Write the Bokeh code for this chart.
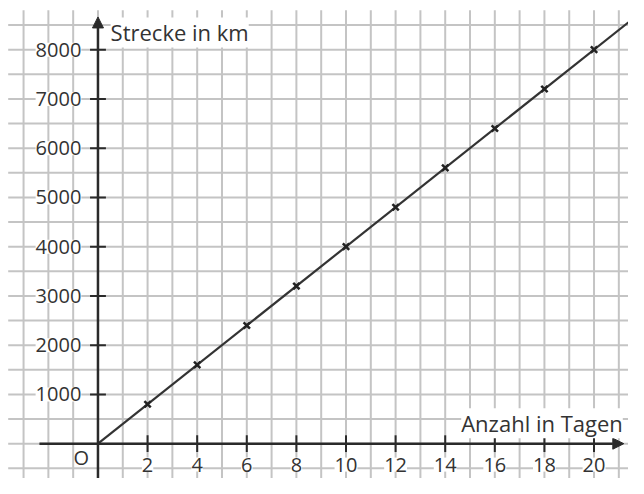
from bokeh.plotting import figure
from bokeh.models import Range1d, ColumnDataSource, LabelSet, Label, Arrow, NormalHead
from bokeh.core.properties import value
from bokeh.embed import file_html
from bokeh.resources import INLINE

# data
days = [2, 4, 6, 8, 10, 12, 14, 16, 18, 20]
km = [800, 1600, 2400, 3200, 4000, 4800, 5600, 6400, 7200, 8000]
x_ticks = [2, 4, 6, 8, 10, 12, 14, 16, 18, 20]
x_tick_labels = ["2", "4", "6", "8", "10", "12", "14", "16", "18", "20"]
y_ticks = [1000, 2000, 3000, 4000, 5000, 6000, 7000, 8000]
y_tick_labels = ["1000", "2000", "3000", "4000", "5000", "6000", "7000", "8000"]
x_title = "Anzahl in Tagen"
y_title = "Strecke in km"

FONT = "Open Sans"
TXT = "#333333"
AX = "#2a2a2a"
GRID = "#c4c4c4"
FS_NUM = "20px"
FS_TITLE = "22px"

X0, X1 = -3.93, 21.39
Y0, Y1 = -707, 8998

p = figure(width=628, height=478, x_range=Range1d(X0, X1), y_range=Range1d(Y0, Y1),
           output_backend="svg", toolbar_location=None, min_border=0)
p.axis.visible = False
p.grid.visible = False
p.outline_line_color = None
p.background_fill_color = "white"

# grid (1 day x 500 km)
gx = list(range(-3, 22))
p.segment(x0=gx, y0=[Y0] * len(gx), x1=gx, y1=[8800] * len(gx), line_color=GRID, line_width=2)
gy = list(range(-500, 9000, 500))
p.segment(x0=[-3.62] * len(gy), y0=gy, x1=[X1] * len(gy), y1=gy, line_color=GRID, line_width=2)

# axes
p.add_layout(Arrow(end=NormalHead(size=11, fill_color=AX, line_color=AX), x_start=-2.36, y_start=0,
                   x_end=21.2, y_end=0, line_color=AX, line_width=2.5))
p.add_layout(Arrow(end=NormalHead(size=11, fill_color=AX, line_color=AX), x_start=0, y_start=Y0,
                   x_end=0, y_end=8664, line_color=AX, line_width=2.5))

# tick marks
p.segment(x0=x_ticks, y0=[-170] * len(x_ticks), x1=x_ticks, y1=[170] * len(x_ticks), line_color=AX, line_width=2)
p.segment(x0=[-0.32] * len(y_ticks), y0=y_ticks, x1=[0.32] * len(y_ticks), y1=y_ticks, line_color=AX, line_width=2)

# proportional line through origin
slope = km[-1] / days[-1]
x_end = X1
p.line(x=[0, x_end], y=[0, slope * x_end], line_color="#333333", line_width=2.2)
p.scatter(x=days, y=km, marker="x", size=9, line_color="#222222", line_width=2.5)

# tick labels
xs = ColumnDataSource(dict(x=x_ticks, y=[-425] * len(x_ticks), t=x_tick_labels))
p.add_layout(LabelSet(source=xs, x="x", y="y", text="t", text_align="center", text_baseline="middle",
                      text_font=value(FONT), text_font_size=value(FS_NUM), text_color=TXT,
                      background_fill_color="white"))
ys = ColumnDataSource(dict(x=[-0.67] * len(y_ticks), y=y_ticks, t=y_tick_labels))
p.add_layout(LabelSet(source=ys, x="x", y="y", text="t", text_align="right", text_baseline="middle",
                      text_font=value(FONT), text_font_size=value(FS_NUM), text_color=TXT,
                      background_fill_color="white"))

p.add_layout(Label(x=-0.67, y=-280, text="O", text_align="center", text_baseline="middle",
                   text_font=FONT, text_font_size=FS_NUM, text_color=TXT))
p.add_layout(Label(x=21.16, y=413, text=x_title, text_align="right", text_baseline="middle",
                   text_font=FONT, text_font_size=FS_TITLE, text_color=TXT, background_fill_color="white"))
p.add_layout(Label(x=0.51, y=8350, text=y_title, text_align="left", text_baseline="middle",
                   text_font=FONT, text_font_size=FS_TITLE, text_color=TXT, background_fill_color="white"))

open("out.html", "w").write(file_html(p, INLINE))
